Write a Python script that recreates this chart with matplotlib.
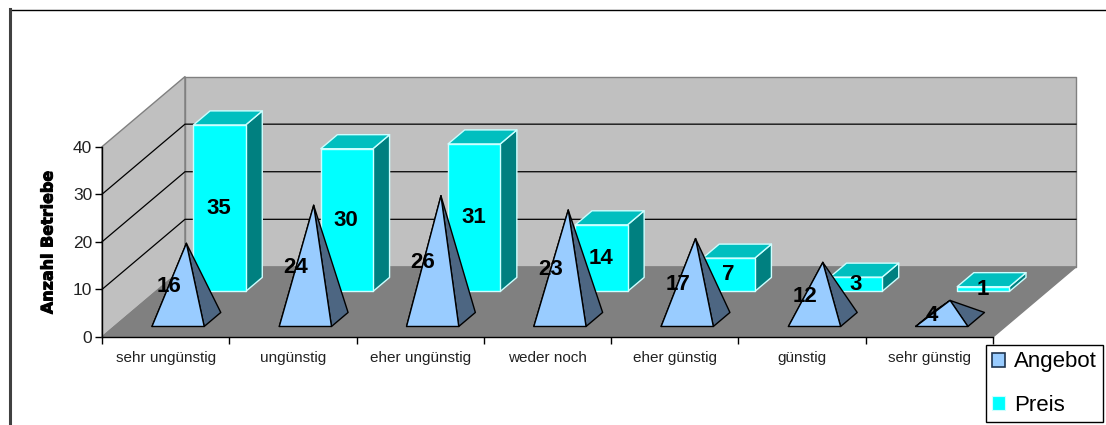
import matplotlib
matplotlib.use("Agg")
import matplotlib.pyplot as plt
import matplotlib.patheffects as pe
from matplotlib.lines import Line2D
from matplotlib.patches import Patch, Polygon

categories = ["sehr ungünstig", "ungünstig", "eher ungünstig", "weder noch",
              "eher günstig", "günstig", "sehr günstig"]
angebot = [16, 24, 26, 23, 17, 12, 4]
preis = [35, 30, 31, 14, 7, 3, 1]
value_ticks = [0, 10, 20, 30, 40]

W, H = 1106, 425
# depth of the fake 3d box, in category units and value units
DEPTH_X = 83 / 127.3
DEPTH_Y = 70 / 4.75


def proj(cat, val, d):
    return cat + d * DEPTH_X, val + d * DEPTH_Y


def face(ax, pts, color, edge, z, lw=1.0):
    xy = [proj(*p) for p in pts]
    ax.add_patch(Polygon(xy, closed=True, facecolor=color, edgecolor=edge,
                         linewidth=lw, zorder=z, clip_on=False, joinstyle="round"))


def draw_bar(ax, i, v, z):
    x0, x1 = i + 0.295, i + 0.705
    d0, d1 = 0.65, 0.85
    edge = "#ccffff"
    face(ax, [(x1, 0, d0), (x1, 0, d1), (x1, v, d1), (x1, v, d0)], "#008080", edge, z)
    face(ax, [(x0, v, d0), (x1, v, d0), (x1, v, d1), (x0, v, d1)], "#00bfbf", edge, z)
    face(ax, [(x0, 0, d0), (x1, 0, d0), (x1, v, d0), (x0, v, d0)], "#00ffff", edge, z)
    ax.text(*proj(i + 0.495, v / 2, d0), str(v), ha="center", va="center",
            fontsize=16, fontweight="bold", family="Liberation Sans", zorder=20)


def draw_pyramid(ax, i, v, z):
    x0, x1 = i + 0.295, i + 0.705
    d0, d1 = 0.15, 0.35
    apex = (i + 0.5, v, 0.25)
    side = "#4d6682"
    face(ax, [(x0, 0, d0), (x0, 0, d1), apex], side, "black", z)
    face(ax, [(x1, 0, d0), (x1, 0, d1), apex], side, "black", z)
    face(ax, [(x0, 0, d0), (x1, 0, d0), apex], "#99ccff", "black", z)
    ax.text(*proj(i + 0.425, v / 2 + 0.4, d0), str(v), ha="center", va="center",
            fontsize=16, fontweight="bold", family="Liberation Sans", zorder=20)


fig = plt.figure(figsize=(W / 100, H / 100), dpi=100)
ax = fig.add_axes([102 / W, 1 - 337 / H, (993 - 102) / W, (337 - 146.7) / H])
ax.set_xlim(0, len(categories))
ax.set_ylim(0, 40)
ax.patch.set_visible(False)

# chart border, only top and left are in the picture
fig.add_artist(Line2D([10 / W, 1], [1 - 9.5 / H, 1 - 9.5 / H], color="black", lw=1.0))
fig.add_artist(Line2D([10 / W, 10 / W], [0, 1 - 9 / H], color="#404040", lw=2.2))

n = len(categories)
face(ax, [(0, 0, 0), (0, 0, 1), (0, 40, 1), (0, 40, 0)], "#c0c0c0", "#808080", 1)
face(ax, [(0, 0, 1), (n, 0, 1), (n, 40, 1), (0, 40, 1)], "#c0c0c0", "#808080", 1)
face(ax, [(0, 0, 0), (n, 0, 0), (n, 0, 1), (0, 0, 1)], "#808080", "#808080", 2)

for t in value_ticks[1:-1]:
    ax.plot(*zip(proj(0, t, 0), proj(0, t, 1), proj(n, t, 1)), color="black", lw=0.9,
            zorder=3, clip_on=False)

for i, v in enumerate(preis):
    draw_bar(ax, i, v, 5 + i * 0.01)
for i, v in enumerate(angebot):
    draw_pyramid(ax, i, v, 6 + i * 0.01)

for s in ["top", "right"]:
    ax.spines[s].set_visible(False)
for s in ["left", "bottom"]:
    ax.spines[s].set_linewidth(1.0)
    ax.spines[s].set_zorder(4)

ax.set_yticks(value_ticks)
ax.set_xticks(range(n + 1))
ax.set_xticklabels([])
ax.set_xticks([i + 0.5 for i in range(n)], minor=True)
ax.set_xticklabels(categories, minor=True, family="Liberation Sans", fontsize=11, color="#222222")
ax.tick_params(axis="x", which="minor", length=0, pad=10)
ax.tick_params(axis="x", which="major", length=5, width=1)
ax.tick_params(axis="y", length=5, width=1, pad=2, labelsize=12.5, labelcolor="#222222")
for lab in ax.get_yticklabels():
    lab.set_family("Liberation Sans")

fig.text(48 / W, 1 - 242 / H, "Anzahl Betriebe", rotation=90, ha="center", va="center",
         fontsize=11.5, fontweight="bold", family="DejaVu Sans", color="black",
         path_effects=[pe.withStroke(linewidth=0.7, foreground="black")])

handles = [Patch(facecolor="#99ccff", edgecolor="#1f3550", lw=1.2, label="Angebot"),
           Patch(facecolor="#00ffff", edgecolor="#ccffff", lw=0.8, label="Preis")]
leg = fig.legend(handles=handles, loc="lower left",
                 bbox_to_anchor=(985.7 / W, 1 - 421.7 / H), borderaxespad=0,
                 prop={"family": "Liberation Sans", "size": 16}, frameon=True, fancybox=False,
                 edgecolor="black", framealpha=1, handlelength=0.6, handleheight=0.6,
                 handletextpad=0.4, labelspacing=1.0, borderpad=0.27)
leg.get_frame().set_linewidth(1.0)

fig.savefig("out.png", dpi=100)
